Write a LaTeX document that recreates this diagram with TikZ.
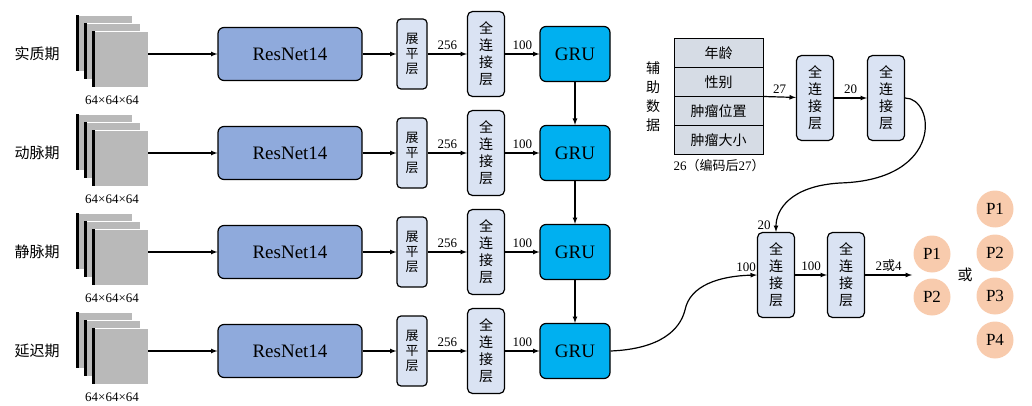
\documentclass[tikz,border=0pt]{standalone}
\usepackage{fontspec}
\setmainfont{Liberation Serif}
\newfontfamily\cjk{Noto Sans CJK SC}
\begin{document}
\begin{tikzpicture}[x=1pt,y=-1pt,>=latex,
  res/.style={draw,line width=1.2pt,rounded corners=6pt,fill=resblue,minimum width=144pt,minimum height=53pt,font=\fontsize{19}{19}\selectfont},
  flat/.style={draw,line width=1.2pt,rounded corners=4pt,fill=lightb,minimum width=30pt,minimum height=70pt,align=center,font=\cjk\fontsize{13}{15}\selectfont},
  fc/.style={draw,line width=1.2pt,rounded corners=5pt,fill=lightb,minimum width=37pt,minimum height=85pt,align=center,font=\cjk\fontsize{14}{17}\selectfont},
  gru/.style={draw,line width=1.2pt,rounded corners=6pt,fill=gruc,minimum width=70pt,minimum height=55pt,font=\fontsize{19}{19}\selectfont},
  lab/.style={font=\fontsize{13}{13}\selectfont},
  ph/.style={font=\cjk\fontsize{15}{15}\selectfont},
  tab/.style={draw,line width=1pt,fill=tabc,minimum width=89pt,minimum height=29pt,font=\cjk\fontsize{14}{14}\selectfont},
  pc/.style={circle,fill=pcol,minimum size=37pt,inner sep=0pt,font=\fontsize{17}{17}\selectfont},
  ar/.style={->,line width=1.2pt}]
\definecolor{resblue}{HTML}{8FAADC}
\definecolor{lightb}{HTML}{DAE3F3}
\definecolor{gruc}{HTML}{00B0F0}
\definecolor{tabc}{HTML}{D6DCE5}
\definecolor{pcol}{HTML}{F8CBAD}
\useasboundingbox (0,0) rectangle (1032,406);
\foreach \i/\y/\nm in {1/54/实质期,2/153/动脉期,3/252/静脉期,4/351/延迟期}{
  \node[ph] (p\i) at (37,\y) {\nm};
  \foreach \d in {0,8,16}{
    \fill[gray!55,draw=white] (76+\d,\y-39+\d) rectangle ++(56,56);
    \fill[black] (76+\d,\y-39+\d) rectangle ++(3,56);
  }
  \node[lab] at (112,\y+46) {64×64×64};
  \coordinate (img\i) at (148,\y);
  \node[res] (r\i) at (290,\y) {ResNet14};
  \node[flat] (f\i) at (412,\y) {展\\平\\层};
  \node[fc] (c\i) at (486,\y) {全\\连\\接\\层};
  \node[gru] (g\i) at (575,\y) {GRU};
  \draw[ar] (img\i) -- (r\i);
  \draw[ar] (r\i) -- (f\i);
  \draw[ar] (f\i) -- node[lab,above]{256} (c\i);
  \draw[ar] (c\i) -- node[lab,above]{100} (g\i);
}
\draw[ar] (g1) -- (g2); \draw[ar] (g2) -- (g3); \draw[ar] (g3) -- (g4);
% aux
\node[tab] (t1) at (718.5,53.5) {年龄};
\node[tab] (t2) at (718.5,82.5) {性别};
\node[tab] (t3) at (718.5,111.5) {肿瘤位置};
\node[tab] (t4) at (718.5,140.5) {肿瘤大小};
\node[align=center,font=\cjk\fontsize{14}{19}\selectfont] at (653,97) {辅\\助\\数\\据};
\node[lab] at (719,166) {26\cjk（编码后\rmfamily 27\cjk）};
\node[fc] (a1) at (815,98) {全\\连\\接\\层};
\node[fc] (a2) at (886,98) {全\\连\\接\\层};
\draw[ar] (t3.north east) -- node[lab,above]{27} (a1);
\draw[ar] (a1) -- node[lab,above]{20} (a2);
\node[fc] (b1) at (776,275) {全\\连\\接\\层};
\node[fc] (b2) at (846,275) {全\\连\\接\\层};
\draw[ar] (a2.east) .. controls (935,98) and (945,180) .. (840,183) .. controls (790,186) and (776,210) .. (b1.north) node[lab,pos=0.9,left=2pt]{20};
\draw[ar] (g4.east) .. controls (660,349) and (680,330) .. (685,310) .. controls (690,285) and (720,276) .. (b1.west) node[lab,pos=0.9,above]{100};
\draw[ar] (b1) -- node[lab,above]{100} (b2);
\coordinate (out) at (912,275);
\draw[ar] (b2) -- node[lab,above]{2\cjk 或\rmfamily 4} (out);
\node[pc] (q1) at (932,254) {P1};
\node[pc] (q2) at (932,297) {P2};
\node[ph] at (965,275) {或};
\node[pc] (s1) at (995,209) {P1};
\node[pc] (s2) at (995,253) {P2};
\node[pc] (s3) at (995,296) {P3};
\node[pc] (s4) at (995,340) {P4};
\end{tikzpicture}
\end{document}
